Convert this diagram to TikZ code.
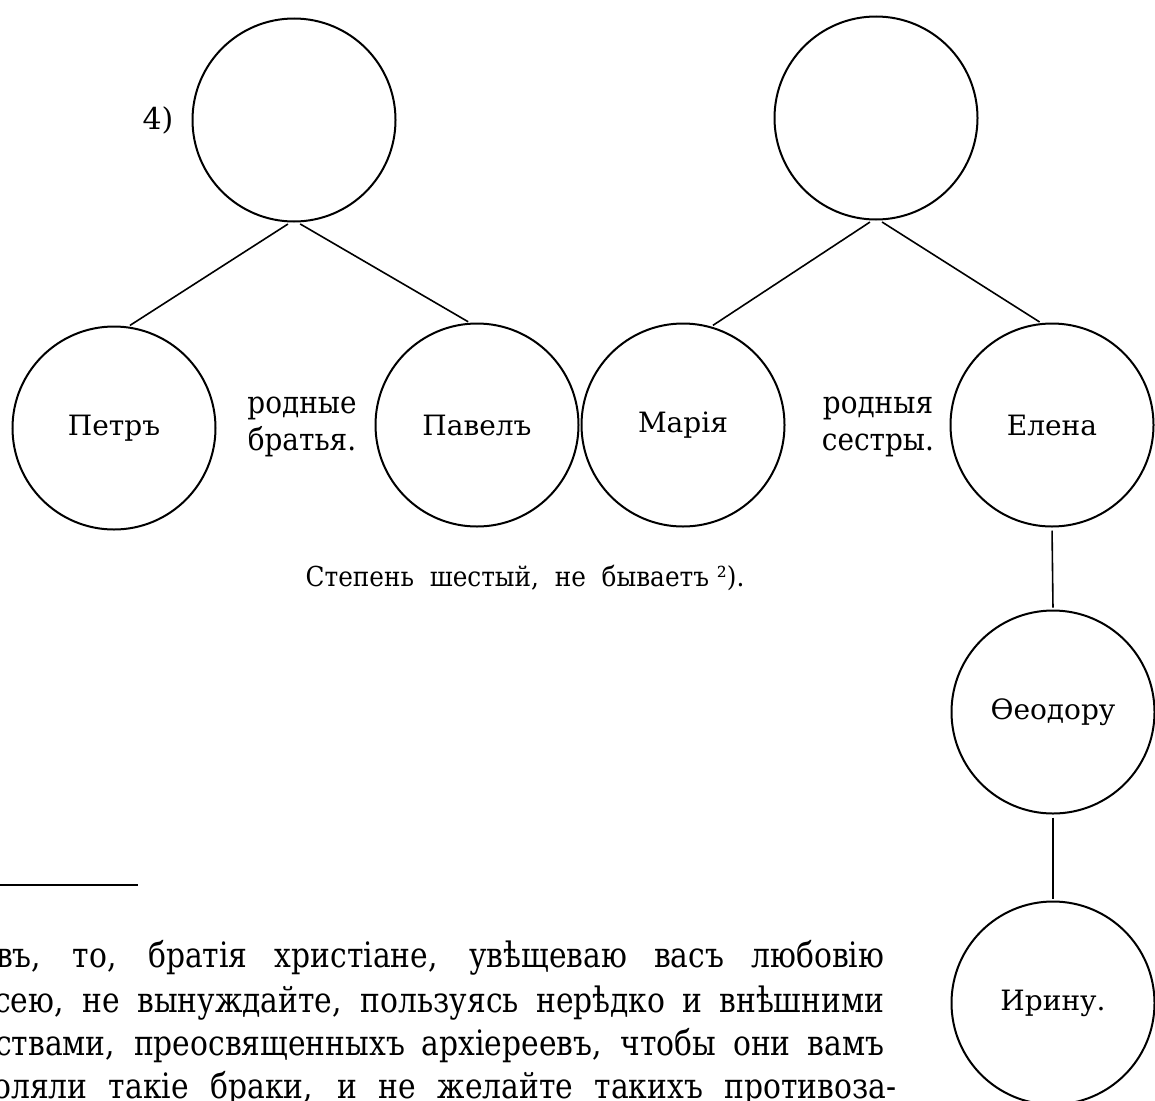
\documentclass[tikz,border=0pt]{standalone}
\usepackage{fontspec}
\setmainfont{DejaVu Serif}
\newfontfamily\footfont[FakeStretch=0.85]{DejaVu Serif}
\newfontfamily\labfont[FakeStretch=0.9]{DejaVu Serif}
\begin{document}
\begin{tikzpicture}[x=1pt,y=-1pt,
  person/.style={circle,draw,line width=2pt,minimum size=203pt,inner sep=0pt,
    font=\fontsize{28}{30}\selectfont},
  link/.style={line width=1.6pt,shorten >=2pt,shorten <=3pt},
  lbl/.style={align=center,inner sep=0pt,font=\labfont\fontsize{31}{37}\selectfont},
  foot/.style={anchor=base west,inner sep=0pt,font=\footfont\fontsize{35}{36}\selectfont}]
\useasboundingbox (0,0) rectangle (1155,1100);
\clip (0,0) rectangle (1155,1100);
\fill[white] (0,0) rectangle (1155,1100);

% top row
\node[person] (topL) at (294,120) {};
\node[person] (topR) at (876,118) {};
\node[font=\fontsize{30}{32}\selectfont,inner sep=0pt] (num) at (158,120) {4)};

% second row
\node[person] (petr)  at (114,428) {Петръ};
\node[person] (pavel) at (477,425) {Павелъ};
\node[person] (maria) at (683,425) {Марія};
\node[person] (elena) at (1052,425) {Елена};
\node[lbl] (brat) at (302,427) {родные\\братья.};
\node[lbl] (sest) at (878,427) {родныя\\сестры.};

% descendants
\node[person] (theo)  at (1053,712) {Ѳеодору};
\node[person] (irina) at (1053,1003) {Ирину.};

% caption
\node[font=\labfont\fontsize{27.5}{30}\selectfont,inner sep=0pt] (cap) at (525,578) {Степень\ \ шестый,\ \ не\ \ бываетъ\ ²).};

% connectors
\draw[link] (topL.268) -- (petr.82);
\draw[link] (topL.272) -- (pavel.94);
\draw[link] (topR.268) -- (maria.74);
\draw[link] (topR.272) -- (elena.96);
\draw[link] (elena.south) -- (theo.north);
\draw[link] (theo.south) -- (irina.north);

% footnote rule and text
\coordinate (r0) at (0,885);
\coordinate (r1) at (138,885);
\draw[line width=1.8pt] (r0) -- (r1);
\node[foot] (f1) at (-4,967)  {\makebox[888pt][s]{въ, то, братія христіане, увѣщеваю васъ любовію}};
\node[foot] (f2) at (-6,1012) {\makebox[890pt][s]{сею, не вынуждайте, пользуясь нерѣдко и внѣшними}};
\node[foot] (f3) at (-5,1055) {\makebox[889pt][s]{ствами, преосвященныхъ архіереевъ, чтобы они вамъ}};
\node[foot] (f4) at (-7,1098) {\makebox[903pt][s]{оляли такіе браки, и не желайте такихъ противоза-}};
\end{tikzpicture}
\end{document}
